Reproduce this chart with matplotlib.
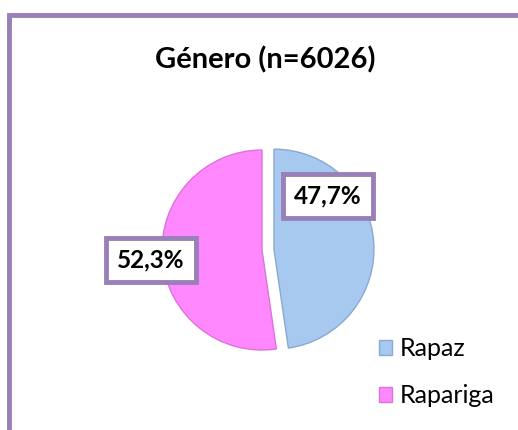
import matplotlib
matplotlib.use('Agg')
import matplotlib.pyplot as plt
from matplotlib.patches import Rectangle

TITLE = 'Género (n=6026)'
CATEGORIES = ['Rapaz', 'Rapariga']
SHARES = [47.7, 52.3]
COLORS = ['#a7c9ef', '#ff88ff']
EDGES = ['#8aa9cf', '#dc72dc']
FRAME = '#9a80b8'

W, H = 518, 430
plt.rcParams['font.family'] = ['Lato', 'DejaVu Sans']

fig = plt.figure(figsize=(W / 100, H / 100), dpi=100)

# purple frame, cut at right and bottom like the reference
fig.patches.append(Rectangle((8.5 / W, -0.1), 1.2, (H - 15) / H + 0.1,
                             transform=fig.transFigure, fill=False,
                             edgecolor=FRAME, linewidth=3.5))

fig.text(265 / W, 1 - 60 / H, TITLE, ha='center', va='center',
         fontsize=21, fontweight='bold')

# pie: radius 100 px centred at (262, 250)
lim = 1.3
size = 2 * lim * 100
cx, cy = 262, 250
ax = fig.add_axes([(cx - size / 2) / W, 1 - (cy + size / 2) / H, size / W, size / H])
wedges, _ = ax.pie(SHARES, colors=COLORS, startangle=90, counterclock=False,
                   explode=[0.12, 0], radius=1,
                   wedgeprops=dict(linewidth=1.0))
for w, ec in zip(wedges, EDGES):
    w.set_edgecolor(ec)
ax.set_xlim(-lim, lim)
ax.set_ylim(-lim, lim)
ax.set_aspect('equal')
ax.axis('off')

# data labels in boxed frames
label_pos = [(0.66, 0.54), (-1.11, -0.10)]
for share, (lx, ly) in zip(SHARES, label_pos):
    ax.text(lx, ly, f'{share:.1f}%'.replace('.', ','), ha='center', va='center',
            fontsize=17.5, fontweight='bold',
            bbox=dict(boxstyle='square,pad=0.45', facecolor='white',
                      edgecolor=FRAME, linewidth=3.5))

fig.legend(wedges, CATEGORIES, loc='center left',
           bbox_to_anchor=(366 / W, 1 - 372 / H), frameon=False,
           fontsize=18, handlelength=0.55, handleheight=0.55,
           handletextpad=0.3, labelspacing=0.95, borderpad=0)

fig.savefig('out.png', dpi=100)
